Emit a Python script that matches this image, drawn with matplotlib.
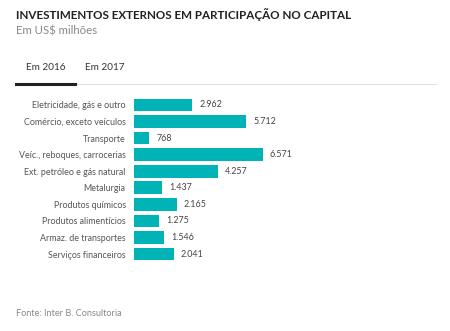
import matplotlib
matplotlib.use('Agg')
import matplotlib.pyplot as plt

# --- Data ---
categories = ['Eletricidade, gás e outro', 'Comércio, exceto veículos', 'Transporte',
              'Veíc., reboques, carrocerias', 'Ext. petróleo e gás natural', 'Metalurgia',
              'Produtos químicos', 'Produtos alimentícios', 'Armaz. de transportes',
              'Serviços financeiros']
values = [2962, 5712, 768, 6571, 4257, 1437, 2165, 1275, 1546, 2041]
value_labels = ['2.962', '5.712', '768', '6.571', '4.257', '1.437', '2.165', '1.275', '1.546', '2.041']

W, H = 450, 331
plt.rcParams['font.family'] = ['Lato', 'DejaVu Sans']
fig = plt.figure(figsize=(W / 100, H / 100), dpi=100)

# header texts (pixel coords -> figure fraction)
def fx(px):
    return px / W

def fy(py):
    return 1 - py / H

fig.text(fx(16), fy(15), 'INVESTIMENTOS EXTERNOS EM PARTICIPAÇÃO NO CAPITAL',
         fontsize=8.4, fontweight='bold', color='#222222', va='center', ha='left')
fig.text(fx(16), fy(31), 'Em US$ milhões', fontsize=8.2, color='#888888', va='center', ha='left')
fig.text(fx(26), fy(68), 'Em 2016', fontsize=7.2, color='#333333', va='center', ha='left')
fig.text(fx(85), fy(68), 'Em 2017', fontsize=7.2, color='#333333', va='center', ha='left')
fig.add_artist(plt.Line2D([fx(16), fx(436)], [fy(84), fy(84)], color='#e3e3e3', lw=0.8))
fig.add_artist(plt.Line2D([fx(16), fx(75)], [fy(83.5), fy(83.5)], color='#222222', lw=2.2))
fig.text(fx(16), fy(314), 'Fonte: Inter B. Consultoria', fontsize=6.6, color='#888888', va='center', ha='left')

# --- Bars ---
left, right = 134, 434
top, bottom = 96.7, 262.3
ax = fig.add_axes([fx(left), fy(bottom), (right - left) / W, (bottom - top) / H])
y = range(len(categories))
ax.barh(y, values, height=0.76, color='#00b3b6')
ax.set_xlim(0, 6571 * (right - left) / 129.0)
ax.set_ylim(len(categories) - 0.5, -0.5)
ax.set_yticks(list(y))
ax.set_yticklabels(categories, fontsize=6.4, color='#555555')
ax.tick_params(axis='y', length=0, pad=6)
ax.set_xticks([])
for s in ax.spines.values():
    s.set_visible(False)

for i, (v, lab) in enumerate(zip(values, value_labels)):
    ax.annotate(lab, (v, i), xytext=(5, 0), textcoords='offset points',
                va='center', ha='left', fontsize=6.4, color='#444444')

fig.savefig('out.png', dpi=100)
